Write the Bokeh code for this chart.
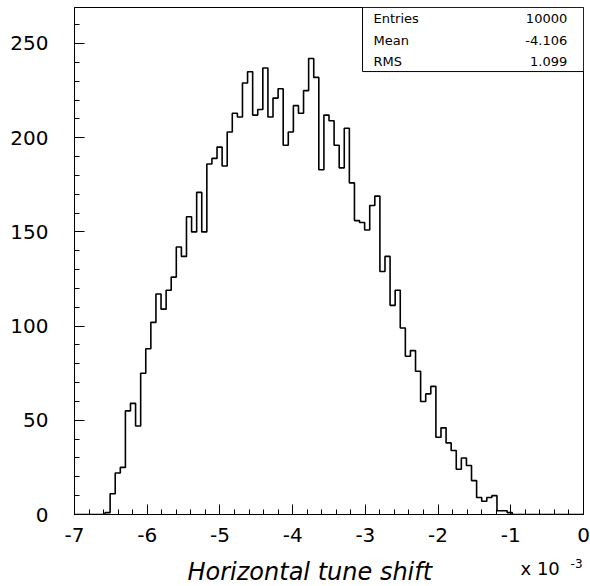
import numpy as np
from bokeh.plotting import figure
from bokeh.layouts import column
from bokeh.models import FixedTicker, Label, BoxAnnotation, Range1d
from bokeh.embed import file_html
from bokeh.resources import INLINE

# ---- data (x in units of 1e-3) ----
bin_low = -7.0
bin_high = 0.0
counts = [
    0, 0, 0, 0, 0, 0, 1, 11, 22, 25,
    55, 59, 47, 75, 88, 102, 117, 109, 119, 126,
    142, 137, 158, 150, 171, 150, 186, 189, 195, 185,
    203, 213, 211, 229, 235, 212, 215, 237, 211, 221,
    226, 196, 203, 217, 213, 225, 242, 232, 183, 212,
    209, 196, 184, 205, 176, 156, 155, 151, 164, 169,
    129, 137, 111, 119, 99, 84, 87, 76, 60, 64,
    68, 41, 46, 38, 34, 24, 30, 26, 18, 9,
    7, 9, 10, 2, 2, 1, 0, 0, 0, 0,
    0, 0, 0, 0, 0, 0, 0, 0, 0, 0,
]
x_ticks = [-7, -6, -5, -4, -3, -2, -1, 0]
x_tick_labels = ["-7", "-6", "-5", "-4", "-3", "-2", "-1", "0"]
y_ticks = [0, 50, 100, 150, 200, 250]
y_tick_labels = ["0", "50", "100", "150", "200", "250"]
stat_names = ["Entries", "Mean", "RMS"]
stat_values = ["10000", "-4.106", "1.099"]
x_title = "Horizontal tune shift"
x_scale_text = "x 10"
x_scale_exp = "-3"

edges = np.linspace(bin_low, bin_high, len(counts) + 1)

FONT = "DejaVu Sans"
W = 590

p = figure(width=W, height=554, output_backend="svg", toolbar_location=None,
           x_range=Range1d(-7, 0), y_range=Range1d(0, 269.1),
           min_border_left=74, min_border_right=7, min_border_top=7, min_border_bottom=40)
p.background_fill_color = "white"
p.border_fill_color = "white"
p.outline_line_color = "black"
p.outline_line_width = 1
p.grid.visible = False

p.step(x=list(edges), y=list(counts) + [0], mode="after", line_color="black", line_width=1.6)

# axes
minor_x = [round(-7 + 0.2 * i, 2) for i in range(36)]
minor_y = list(range(0, 270, 10))
p.xaxis.ticker = FixedTicker(ticks=x_ticks, minor_ticks=minor_x)
p.yaxis.ticker = FixedTicker(ticks=y_ticks, minor_ticks=minor_y)
p.xaxis.major_label_overrides = {t: l for t, l in zip(x_ticks, x_tick_labels)}
p.yaxis.major_label_overrides = {t: l for t, l in zip(y_ticks, y_tick_labels)}
for ax in (p.xaxis, p.yaxis):
    ax.major_tick_in = 10
    ax.major_tick_out = 0
    ax.minor_tick_in = 5
    ax.minor_tick_out = 0
    ax.axis_line_color = "black"
    ax.major_tick_line_color = "black"
    ax.minor_tick_line_color = "black"
    ax.major_label_text_font = FONT
    ax.major_label_text_font_size = "20px"
    ax.major_label_text_color = "black"
p.yaxis.major_label_standoff = 26
p.xaxis.major_label_standoff = 13

# stats box
p.add_layout(BoxAnnotation(left=-3.039, right=0, bottom=235.1, top=269.1,
                           fill_color="white", fill_alpha=1.0,
                           line_color="black", line_width=1, line_alpha=1.0))
row_y = [263.1, 251.6, 240.4]
for name, val, yy in zip(stat_names, stat_values, row_y):
    p.add_layout(Label(x=-2.887, y=yy, text=name, text_font=FONT, text_font_size="13px",
                       text_color="black", text_baseline="middle"))
    p.add_layout(Label(x=-0.224, y=yy, text=val, text_font=FONT, text_font_size="13px",
                       text_color="black", text_baseline="middle", text_align="right"))

# strip below for the axis title and the exponent
q = figure(width=W, height=32, output_backend="svg", toolbar_location=None,
           x_range=p.x_range, y_range=Range1d(0, 32),
           x_axis_type=None, y_axis_type=None,
           min_border_left=74, min_border_right=7, min_border_top=0, min_border_bottom=0)
q.grid.visible = False
q.outline_line_color = None
q.background_fill_color = "white"
q.border_fill_color = "white"
q.add_layout(Label(x=-5.446, y=15, text=x_title, text_font=FONT, text_font_size="24px",
                   text_font_style="italic", text_color="black", text_baseline="alphabetic"))
q.add_layout(Label(x=-0.866, y=18, text=x_scale_text, text_font=FONT, text_font_size="18px",
                   text_color="black", text_baseline="alphabetic"))
q.add_layout(Label(x=-0.178, y=23, text=x_scale_exp, text_font=FONT, text_font_size="12px",
                   text_color="black", text_baseline="alphabetic"))

layout = column(p, q, spacing=0)
open("out.html", "w").write(file_html(layout, INLINE))
